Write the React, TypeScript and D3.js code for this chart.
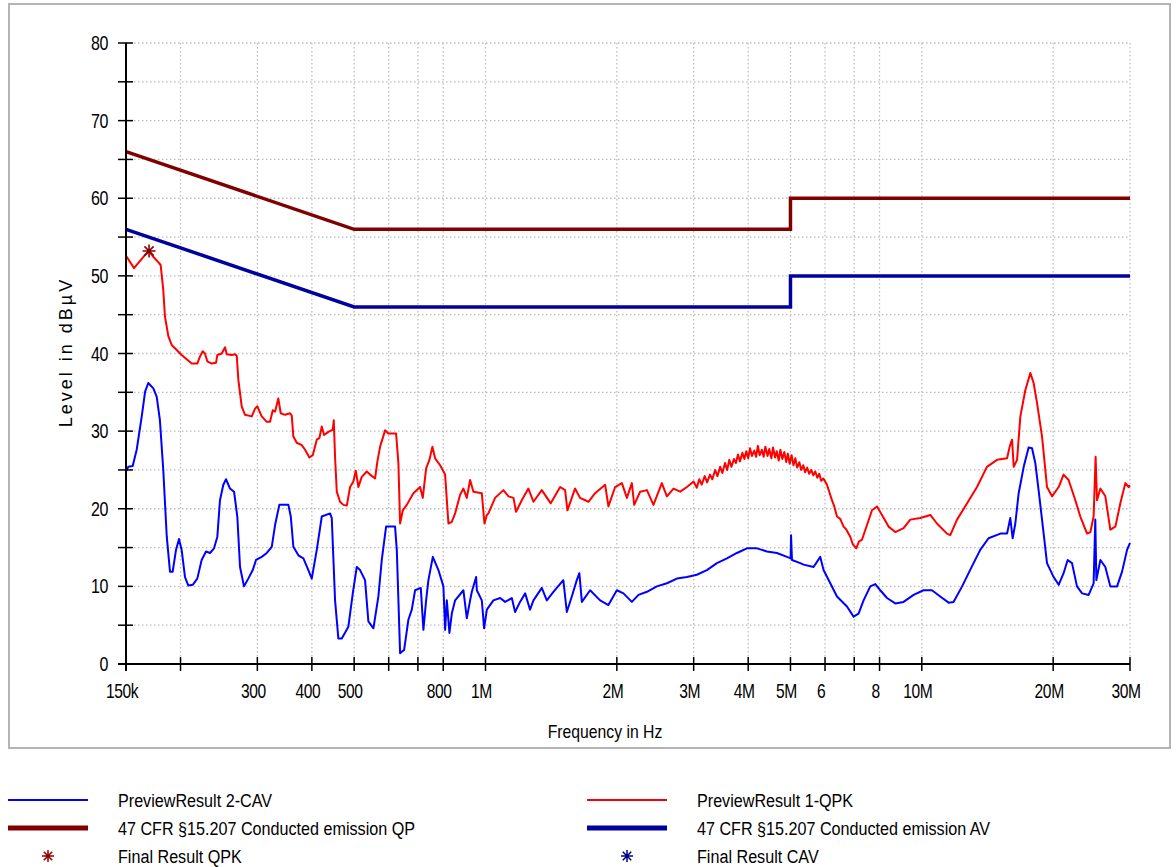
import * as d3 from "d3";

// frequency in MHz, level in dBµV
const qpkTrace: [number, number][] = [
  [0.150, 52.6], [0.1565, 51.0], [0.1659, 52.7], [0.1694, 53.2], [0.1730, 52.5], [0.1776, 51.8],
  [0.1801, 51.4], [0.1826, 48.2], [0.1842, 44.8], [0.1876, 42.2], [0.1909, 41.1], [0.2012, 39.8],
  [0.2122, 38.7], [0.2185, 38.7], [0.2216, 39.6], [0.2248, 40.3], [0.2275, 40.0], [0.2304, 39.0],
  [0.2358, 38.7], [0.2412, 38.8], [0.2429, 39.8], [0.2486, 40.0], [0.2530, 40.8], [0.2552, 39.9],
  [0.2621, 39.8], [0.2667, 39.9], [0.2691, 39.7], [0.2714, 36.6], [0.2762, 33.2], [0.2811, 32.1],
  [0.2913, 31.9], [0.2964, 32.9], [0.3000, 33.2], [0.3070, 31.9], [0.3153, 31.2], [0.3208, 31.2],
  [0.3254, 32.7], [0.3294, 32.5], [0.3351, 34.2], [0.3394, 32.3], [0.3472, 32.1], [0.3565, 32.3],
  [0.3597, 32.0], [0.3628, 29.3], [0.3694, 28.5], [0.3793, 28.2], [0.3859, 27.6], [0.3948, 26.6],
  [0.4019, 26.9], [0.4105, 28.9], [0.4162, 29.1], [0.4215, 30.6], [0.4266, 29.5], [0.4365, 29.9],
  [0.4467, 30.2], [0.4490, 31.4], [0.4521, 26.7], [0.4562, 22.2], [0.4642, 20.9], [0.4724, 20.5],
  [0.4810, 20.4], [0.4894, 22.8], [0.4980, 23.5], [0.5043, 24.9], [0.5113, 22.8], [0.5205, 24.1],
  [0.5345, 24.8], [0.5438, 24.4], [0.5584, 23.9], [0.5653, 26.1], [0.5734, 28.0], [0.5887, 30.1],
  [0.5990, 29.7], [0.6239, 29.7], [0.6315, 25.9], [0.6372, 18.1], [0.6464, 19.8], [0.6601, 20.5],
  [0.6835, 22.0], [0.7082, 22.8], [0.7183, 21.4], [0.7310, 25.2], [0.7439, 26.3], [0.7557, 28.0],
  [0.7665, 26.5], [0.7870, 25.6], [0.8081, 24.4], [0.8223, 18.1], [0.8372, 18.3], [0.8519, 19.4],
  [0.8746, 21.8], [0.8900, 22.6], [0.9061, 21.4], [0.9220, 23.7], [0.9383, 22.2], [0.9808, 22.0],
  [0.9944, 18.1], [1.0071, 19.2], [1.0155, 19.4], [1.052, 21.4], [1.099, 22.4], [1.129, 21.6],
  [1.159, 21.4], [1.175, 19.6], [1.211, 21.1], [1.254, 22.6], [1.288, 20.9], [1.346, 22.4],
  [1.411, 20.7], [1.483, 22.8], [1.522, 22.4], [1.541, 19.8], [1.604, 22.6], [1.647, 21.4],
  [1.722, 20.9], [1.783, 22.0], [1.880, 23.1], [1.913, 20.3], [1.982, 22.8], [2.054, 23.3],
  [2.109, 21.4], [2.165, 23.3], [2.192, 20.5], [2.262, 22.2], [2.344, 22.4], [2.426, 20.5],
  [2.536, 23.3], [2.605, 21.6], [2.697, 22.6], [2.794, 22.2], [2.895, 22.8],
  [3.00, 23.5], [3.05, 22.7], [3.09, 23.8], [3.13, 23.1], [3.18, 24.2], [3.22, 23.4], [3.27, 24.4],
  [3.31, 23.8], [3.36, 25.0], [3.40, 24.2], [3.45, 25.4], [3.49, 24.6], [3.54, 25.9], [3.58, 25.0],
  [3.62, 26.3], [3.66, 25.4], [3.71, 26.4], [3.75, 25.9], [3.79, 27.0], [3.83, 26.1], [3.88, 27.2],
  [3.92, 26.4], [3.96, 27.4], [4.00, 26.5], [4.04, 27.8], [4.08, 26.8], [4.13, 27.5], [4.17, 26.7],
  [4.21, 28.1], [4.25, 26.9], [4.30, 27.6], [4.34, 26.7], [4.38, 28.0], [4.43, 26.8], [4.47, 27.7],
  [4.52, 26.5], [4.56, 27.9], [4.61, 26.6], [4.65, 27.4], [4.70, 26.2], [4.74, 27.6], [4.79, 26.4],
  [4.84, 27.3], [4.89, 26.0], [4.93, 27.1], [4.98, 25.8], [5.03, 26.9], [5.08, 25.6], [5.13, 26.5],
  [5.18, 25.3], [5.24, 26.0], [5.29, 25.0], [5.35, 25.6], [5.40, 24.7], [5.46, 25.3], [5.52, 24.5],
  [5.58, 25.0], [5.64, 24.3], [5.70, 24.8], [5.76, 24.0], [5.82, 24.5], [5.88, 23.6], [5.95, 23.9],
  [6.062, 23.1], [6.224, 21.1], [6.30, 20.3], [6.391, 19.0], [6.50, 18.7], [6.617, 17.7],
  [6.70, 17.4], [6.855, 16.4], [6.95, 15.4], [7.076, 14.9], [7.18, 15.8],
  [7.292, 16.0], [7.488, 17.9], [7.687, 19.8], [7.893, 20.3], [8.104, 19.2], [8.391, 17.7],
  [8.693, 17.0], [9.082, 17.5], [9.409, 18.6], [9.920, 18.8], [10.46, 19.2], [10.83, 18.1],
  [11.42, 16.8], [11.62, 16.6], [12.04, 18.6], [12.70, 20.7], [13.38, 22.8], [14.10, 25.4],
  [14.87, 26.3], [15.68, 26.5], [15.90, 28.0], [16.10, 28.9], [16.24, 25.4], [16.53, 26.3],
  [16.82, 31.9], [17.27, 35.3], [17.73, 37.5], [18.04, 36.2], [18.37, 33.6], [18.86, 29.3],
  [19.36, 22.8], [19.88, 21.6], [20.59, 22.8], [21.13, 24.4], [21.70, 23.7], [22.48, 21.1],
  [23.08, 19.0], [23.92, 16.8], [24.34, 17.0], [24.76, 19.0], [25.02, 26.7], [25.21, 21.1],
  [25.66, 22.6], [26.34, 21.6], [27.04, 17.3], [27.77, 17.7], [28.51, 20.7], [29.27, 23.3],
  [29.79, 22.8], [30.0, 23.0],
];

const cavTrace: [number, number][] = [
  [0.150, 24.8], [0.1518, 25.4], [0.1554, 25.5], [0.1587, 27.6], [0.1630, 31.9], [0.1659, 35.1],
  [0.1687, 36.2], [0.1733, 35.5], [0.1764, 34.4], [0.1794, 31.4], [0.1826, 25.0], [0.1860, 16.4],
  [0.1892, 11.9], [0.1919, 11.9], [0.1953, 14.7], [0.1984, 16.1], [0.2012, 14.7], [0.2048, 11.2],
  [0.2084, 10.1], [0.2133, 10.2], [0.2185, 11.0], [0.2236, 13.4], [0.2288, 14.5], [0.2337, 14.3],
  [0.2387, 14.9], [0.2429, 16.4], [0.2463, 21.1], [0.2507, 23.1], [0.2543, 23.8], [0.2597, 22.6],
  [0.2653, 22.2], [0.2699, 19.0], [0.2738, 12.5], [0.2796, 10.0], [0.2860, 11.0], [0.2928, 12.1],
  [0.2979, 13.4], [0.3070, 13.8], [0.3153, 14.3], [0.3237, 15.1], [0.3294, 17.9], [0.3369, 20.5],
  [0.3534, 20.5], [0.3579, 19.0], [0.3628, 15.1], [0.3725, 14.0], [0.3825, 13.6], [0.3927, 12.1],
  [0.3998, 11.0], [0.4105, 14.7], [0.4215, 19.0], [0.4404, 19.4], [0.4443, 18.8], [0.4521, 8.2],
  [0.4600, 3.3], [0.4684, 3.3], [0.4850, 4.8], [0.4964, 9.1], [0.5070, 12.5], [0.5159, 12.1],
  [0.5296, 10.8], [0.5390, 5.5], [0.5535, 4.6], [0.5682, 8.7], [0.5785, 13.4], [0.5918, 17.7],
  [0.6205, 17.7], [0.6262, 14.7], [0.6372, 1.4], [0.6508, 1.8], [0.6657, 5.7], [0.6778, 7.0],
  [0.6897, 9.5], [0.7107, 9.8], [0.7206, 4.4], [0.7310, 8.2], [0.7399, 10.8], [0.7573, 13.8],
  [0.7800, 12.1], [0.8008, 10.0], [0.8081, 4.4], [0.8154, 8.2], [0.8267, 4.0], [0.8372, 6.5],
  [0.8519, 8.2], [0.8900, 9.5], [0.9061, 5.9], [0.9220, 8.2], [0.9304, 9.3], [0.9518, 11.2],
  [0.9553, 9.5], [0.9808, 8.2], [0.9928, 4.6], [1.0071, 7.0], [1.0426, 8.2], [1.0805, 8.5],
  [1.109, 8.0], [1.149, 8.5], [1.169, 6.7], [1.200, 8.0], [1.233, 9.1], [1.265, 7.0], [1.288, 8.2],
  [1.346, 9.8], [1.382, 8.2], [1.431, 9.3], [1.508, 10.8], [1.536, 6.7], [1.577, 8.7], [1.619, 10.8],
  [1.641, 11.7], [1.663, 8.0], [1.737, 9.5], [1.831, 8.2], [1.913, 7.6], [2.000, 9.5], [2.071, 9.1],
  [2.165, 8.0], [2.242, 8.9], [2.344, 9.3], [2.470, 10.0], [2.605, 10.4], [2.746, 11.0],
  [2.895, 11.2], [3.051, 11.5], [3.217, 12.1], [3.392, 13.0], [3.575, 13.6], [3.769, 14.3],
  [3.974, 14.9], [4.188, 14.9], [4.416, 14.5], [4.655, 14.3], [4.908, 13.8], [5.005, 13.6],
  [5.015, 16.6], [5.040, 13.4], [5.265, 13.0], [5.358, 12.8], [5.648, 12.5], [5.851, 13.8],
  [5.954, 12.1], [6.169, 10.4], [6.391, 8.7], [6.737, 7.4], [6.976, 6.1], [7.162, 6.5],
  [7.354, 8.2], [7.619, 10.0], [7.822, 10.3], [8.032, 9.5], [8.321, 8.5], [8.693, 7.8],
  [9.082, 8.0], [9.575, 8.9], [10.09, 9.5], [10.55, 9.5], [11.02, 8.7], [11.52, 7.9], [11.82, 8.0],
  [12.37, 10.0], [12.80, 11.7], [13.14, 13.0], [13.61, 14.7], [14.22, 16.2], [15.14, 16.8],
  [15.68, 16.8], [15.95, 18.8], [16.15, 16.2], [16.38, 18.1], [16.67, 22.0], [17.12, 25.4],
  [17.57, 27.9], [17.89, 27.8], [18.20, 25.9], [18.52, 22.4], [19.02, 16.8], [19.36, 13.0],
  [20.05, 11.2], [20.59, 10.2], [21.13, 11.7], [21.59, 13.4], [22.09, 13.0], [22.68, 10.0],
  [23.30, 9.1], [24.12, 8.9], [24.76, 10.4], [24.98, 18.6], [25.12, 10.8], [25.66, 13.4],
  [26.34, 12.5], [27.04, 10.0], [28.02, 10.0], [28.77, 11.9], [29.54, 14.7], [30.0, 15.6],
];

const limitQP: [number, number][] = [[0.15, 66], [0.5, 56], [5, 56], [5, 60], [30, 60]];
const limitAV: [number, number][] = [[0.15, 56], [0.5, 46], [5, 46], [5, 50], [30, 50]];
const finalQPK: [number, number][] = [[0.1694, 53.2]];

const xTickValues = [0.15, 0.2, 0.3, 0.4, 0.5, 0.6, 0.7, 0.8, 1, 2, 3, 4, 5, 6, 7, 8, 10, 20, 30];
const xTickLabels = ["150k", "", "300", "400", "500", "", "", "800", "1M", "2M", "3M", "4M", "5M", "6", "", "8", "10M", "20M", "30M"];
const yTickValues = d3.range(0, 81, 5);

const legendItems = [
  { label: "PreviewResult 2-CAV", color: "#0000ff", kind: "line", width: 2, col: 0, row: 0 },
  { label: "PreviewResult 1-QPK", color: "#ff0000", kind: "line", width: 2, col: 1, row: 0 },
  { label: "47 CFR §15.207 Conducted emission QP", color: "#800000", kind: "line", width: 5, col: 0, row: 1 },
  { label: "47 CFR §15.207 Conducted emission AV", color: "#0000a0", kind: "line", width: 5, col: 1, row: 1 },
  { label: "Final  Result QPK", color: "#8b0000", kind: "star", width: 1.5, col: 0, row: 2 },
  { label: "Final  Result CAV", color: "#00008b", kind: "star", width: 1.5, col: 1, row: 2 },
];

const FONT = "'Liberation Sans', Arial, sans-serif";

function star(cx: number, cy: number, r: number) {
  const p = d3.path();
  for (let i = 0; i < 4; i++) {
    const a = (i * Math.PI) / 4;
    p.moveTo(cx - r * Math.sin(a), cy - r * Math.cos(a));
    p.lineTo(cx + r * Math.sin(a), cy + r * Math.cos(a));
  }
  return p.toString();
}

// narrow text, like the condensed font of the original
function NText(props: { x: number; y: number; size: number; sx: number; anchor?: string; children: any; spacing?: number }) {
  const { x, y, size, sx, anchor = "start", children, spacing = 0 } = props;
  return (
    <text
      transform={`translate(${x},${y}) scale(${sx},1)`}
      textAnchor={anchor}
      dy="0.35em"
      fontSize={size}
      letterSpacing={spacing}
    >
      {children}
    </text>
  );
}

export default function App() {
  const width = 1176;
  const height = 867;
  const x = d3.scaleLog().domain([0.15, 30]).range([126, 1130]);
  const y = d3.scaleLinear().domain([0, 80]).range([664, 43]);
  const line = d3
    .line<[number, number]>()
    .x((d) => x(d[0]))
    .y((d) => y(d[1]));

  const legendX = [8, 587];
  const legendY = [800, 828, 856];

  return (
    <div style={{ position: "absolute", left: 0, top: 0 }}>
      <svg width={width} height={height} style={{ display: "block", background: "#fff" }} fontFamily={FONT}>
        <rect x={9} y={4} width={1161} height={744} fill="none" stroke="#b4b4b4" strokeWidth={2} />

        {/* grid */}
        {yTickValues
          .filter((v) => v > 0)
          .map((v) => (
            <line key={"gy" + v} x1={x(0.15)} x2={x(30)} y1={y(v)} y2={y(v)} stroke="#bdbdbd" strokeWidth={1.3} strokeDasharray="1.5 2.5" />
          ))}
        {xTickValues
          .filter((v) => v > 0.15)
          .map((v) => (
            <line key={"gx" + v} x1={x(v)} x2={x(v)} y1={y(80)} y2={y(0)} stroke="#bdbdbd" strokeWidth={1.3} strokeDasharray="1.5 2.5" />
          ))}

        {/* limits */}
        <path d={line(limitQP) ?? ""} fill="none" stroke="#800000" strokeWidth={3.5} />
        <path d={line(limitAV) ?? ""} fill="none" stroke="#0000a0" strokeWidth={3.5} />

        {/* traces */}
        <path d={line(cavTrace) ?? ""} fill="none" stroke="#0000ff" strokeWidth={2} strokeLinejoin="round" />
        <path d={line(qpkTrace) ?? ""} fill="none" stroke="#ff0000" strokeWidth={2} strokeLinejoin="round" />

        {/* final result markers */}
        {finalQPK.map((d, i) => (
          <path key={"fq" + i} d={star(x(d[0]), y(d[1]), 6.5)} stroke="#8b0000" strokeWidth={1.6} />
        ))}

        {/* axes */}
        <line x1={x(0.15)} x2={x(0.15)} y1={y(80)} y2={671} stroke="#000" strokeWidth={2} />
        <line x1={118} x2={x(30)} y1={y(0)} y2={y(0)} stroke="#000" strokeWidth={2} />
        {yTickValues.map((v) => (
          <g key={"ty" + v}>
            <line x1={118} x2={133} y1={y(v)} y2={y(v)} stroke="#000" strokeWidth={1.5} />
            {v % 10 === 0 && (
              <NText x={108} y={y(v)} size={20} sx={0.8} anchor="end" spacing={-0.5}>
                {v}
              </NText>
            )}
          </g>
        ))}
        {xTickValues.map((v, i) => (
          <g key={"tx" + v}>
            <line x1={x(v)} x2={x(v)} y1={657} y2={671} stroke="#000" strokeWidth={1.5} />
            <NText x={x(v) - 4} y={691} size={20} sx={0.78} anchor="middle" spacing={-0.5}>
              {xTickLabels[i]}
            </NText>
          </g>
        ))}

        <NText x={605} y={731} size={19} sx={0.83} anchor="middle">
          Frequency in Hz
        </NText>
        <text transform="translate(66,352) rotate(-90)" textAnchor="middle" dy="0.35em" fontSize={18} letterSpacing={3}>
          Level in dBµV
        </text>

        {/* legend */}
        {legendItems.map((it) => {
          const lx = legendX[it.col];
          const ly = legendY[it.row];
          return (
            <g key={it.label}>
              {it.kind === "line" ? (
                <line x1={lx} x2={lx + 80} y1={ly} y2={ly} stroke={it.color} strokeWidth={it.width} />
              ) : (
                <path d={star(lx + 40, ly, 6)} stroke={it.color} strokeWidth={1.5} />
              )}
              <NText x={lx + 110} y={ly} size={19} sx={0.85}>
                {it.label}
              </NText>
            </g>
          );
        })}
      </svg>
    </div>
  );
}
